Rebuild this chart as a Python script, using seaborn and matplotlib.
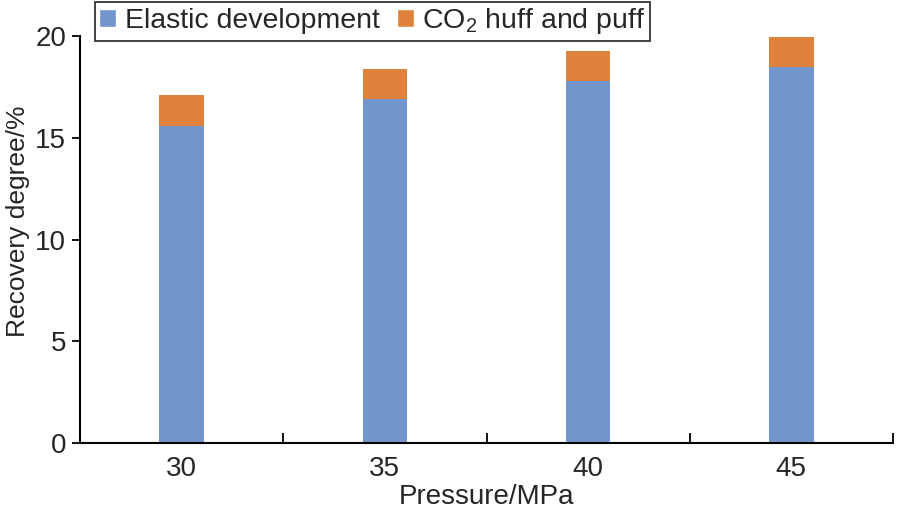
import numpy as np
import pandas as pd
import matplotlib
matplotlib.use('Agg')
import matplotlib.pyplot as plt
import seaborn as sns
from matplotlib.patches import Patch

pressure = ['30', '35', '40', '45']
elastic = [15.6, 16.9, 17.8, 18.5]
co2 = [1.5, 1.5, 1.45, 1.45]

df = pd.DataFrame({'Pressure': pressure, 'Elastic': elastic, 'CO2': co2})
df['Total'] = df['Elastic'] + df['CO2']

sns.set_style('white')
plt.rcParams['font.family'] = ['Liberation Sans', 'DejaVu Sans']
plt.rcParams['mathtext.fontset'] = 'custom'
plt.rcParams['mathtext.rm'] = 'Liberation Sans'
plt.rcParams['mathtext.it'] = 'Liberation Sans'

blue = '#7295cc'
orange = '#e0823e'
fs = 20

fig = plt.figure(figsize=(9, 5.17), dpi=100)
ax = fig.add_axes([80 / 900, 1 - 443 / 517, 813 / 900, 407 / 517])

# stacked look: total in orange, elastic part drawn over it in blue
sns.barplot(data=df, x='Pressure', y='Total', color=orange, width=0.22,
            saturation=1, linewidth=0, ax=ax)
sns.barplot(data=df, x='Pressure', y='Elastic', color=blue, width=0.22,
            saturation=1, linewidth=0, ax=ax)

ax.set_xlim(-0.5, 3.5)
ax.set_ylim(0, 20)
ax.set_yticks([0, 5, 10, 15, 20])
ax.set_xticks(np.arange(-0.5, 4, 1), minor=True)
ax.tick_params(axis='x', which='major', length=0, labelsize=fs, pad=9)
ax.tick_params(axis='x', which='minor', direction='in', length=7, width=1.3,
               bottom=True, color='black')
ax.tick_params(axis='y', which='major', direction='out', length=6, width=1.3,
               labelsize=fs, left=True, pad=4, color='black')
for s in ['top', 'right']:
    ax.spines[s].set_visible(False)
for s in ['left', 'bottom']:
    ax.spines[s].set_linewidth(1.5)
    ax.spines[s].set_color('black')

ax.set_xlabel('Pressure/MPa', fontsize=fs, labelpad=2)
ax.set_ylabel('Recovery degree/%', fontsize=19)
ax.yaxis.set_label_coords(-0.061, 0.545)

handles = [Patch(facecolor=blue, label='Elastic development'),
           Patch(facecolor=orange, label='CO$_2$ huff and puff')]
leg = fig.legend(handles=handles, loc='upper left',
                 bbox_to_anchor=(95 / 900, 1 - 2 / 517), ncol=2, fontsize=20.5,
                 frameon=True, fancybox=False, edgecolor='black',
                 handlelength=0.6, handleheight=0.6, handletextpad=0.3,
                 columnspacing=0.6, borderpad=0.15, borderaxespad=0)
leg.get_frame().set_linewidth(1.3)

fig.savefig('out.png', dpi=100)
